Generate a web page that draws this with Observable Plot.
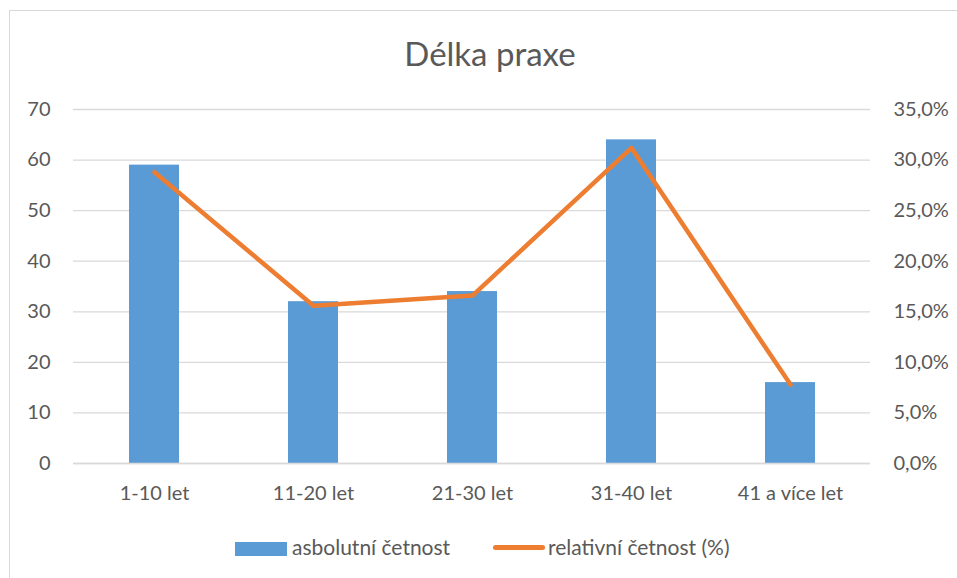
<!DOCTYPE html>
<html><head><meta charset="utf-8">
<script src="https://cdn.jsdelivr.net/npm/d3@7"></script>
<script src="https://cdn.jsdelivr.net/npm/@observablehq/plot@0.6"></script>
<style>
html,body{margin:0;padding:0;background:#fff;}
#wrap{position:relative;width:957px;height:578px;overflow:hidden;font-family:Lato,"Open Sans",sans-serif;color:#595959;}
#frame{position:absolute;left:9px;top:10px;width:1000px;height:1000px;border:1px solid #d9d9d9;box-sizing:border-box;}
#title{position:absolute;left:0;width:980px;top:33px;text-align:center;font-size:33px;line-height:40px;}
.leg{position:absolute;font-size:21px;top:534px;line-height:26px;white-space:nowrap;}
#chart{position:absolute;left:0;top:0;}
</style></head>
<body><div id="wrap"><div id="frame"></div><div id="chart"></div><div id="title">Délka praxe</div>
<div class="leg" style="left:235px"><span style="display:inline-block;width:52px;height:14px;background:#5B9BD5;vertical-align:-1px;margin-right:5px"></span>asbolutní četnost</div>
<div class="leg" style="left:493px"><span style="display:inline-block;width:52px;height:5px;border-radius:3px;background:#ED7D31;vertical-align:5px;margin-right:3px"></span>relativní četnost (%)</div>
</div>
<script>
const categories = ["1-10 let","11-20 let","21-30 let","31-40 let","41 a více let"];
const absolute = [59,32,34,64,16];
const relative = [28.8,15.6,16.6,31.2,7.8];
const leftTicks = [0,10,20,30,40,50,60,70];
const rightTicks = [0,5,10,15,20,25,30,35];

const data = categories.map((c,i)=>({cat:c,abs:absolute[i],rel:relative[i]}));
const ratio = 70/35;
const font = "Lato, 'Open Sans', sans-serif";

const plot = Plot.plot({
  width:957, height:578,
  marginLeft:73, marginRight:87, marginTop:109, marginBottom:115,
  style:{fontFamily:font, fontSize:"20px", color:"#595959", background:"transparent"},
  x:{domain:categories, paddingInner:0.686, paddingOuter:0.343, label:null},
  y:{domain:[0,70], label:null},
  marks:[
    Plot.gridY(leftTicks,{stroke:"#d9d9d9", strokeOpacity:1, strokeWidth:1.3}),
    Plot.barY(data,{x:"cat", y:"abs", fill:"#5B9BD5"}),
    Plot.ruleY([0],{stroke:"#d9d9d9", strokeWidth:1.3}),
    Plot.lineY(data,{x:"cat", y:d=>d.rel*ratio, stroke:"#ED7D31", strokeWidth:4.5, strokeLinecap:"round", strokeLinejoin:"round"}),
    Plot.axisY(leftTicks,{anchor:"left", tickSize:0, tickPadding:23, label:null, fill:"#595959"}),
    Plot.axisY(rightTicks.map(v=>v*ratio),{anchor:"right", tickSize:0, tickPadding:23, label:null, fill:"#595959",
      tickFormat:v=>(v/ratio).toFixed(1).replace(".",",")+"%"}),
    Plot.axisX({tickSize:0, tickPadding:22, label:null, fill:"#595959"})
  ]
});
document.getElementById("chart").appendChild(plot);
</script></body></html>
